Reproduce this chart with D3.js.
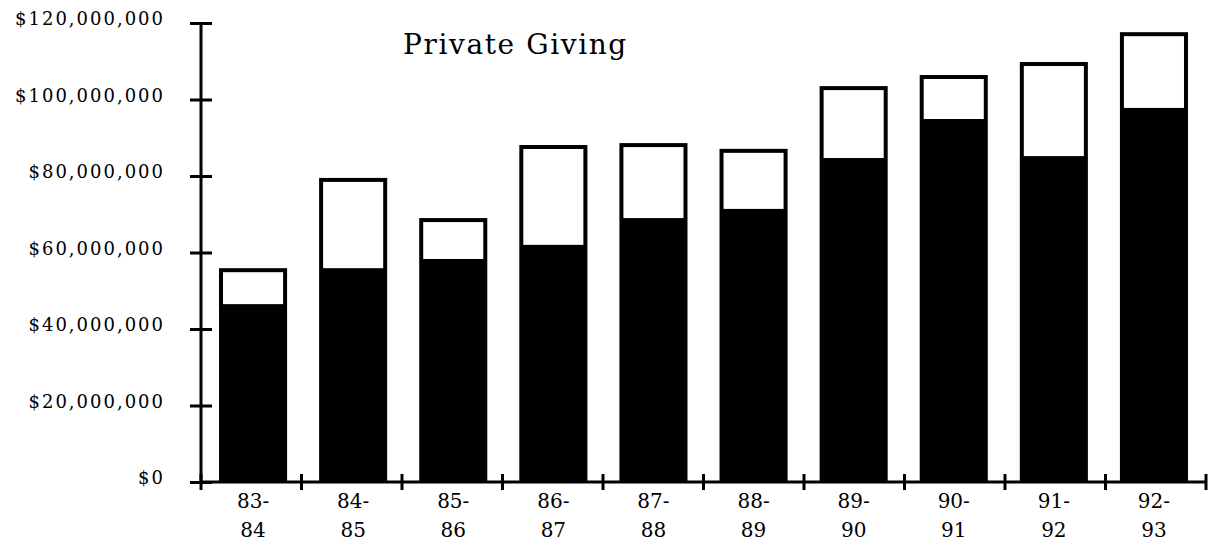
<!DOCTYPE html>
<html>
<head>
<meta charset="utf-8">
<script src="https://cdn.jsdelivr.net/npm/d3@7"></script>
<style>
  html, body { margin: 0; padding: 0; background: #fff; }
  svg { display: block; }
  text { font-family: "DejaVu Serif", "Liberation Serif", serif; fill: #000; }
</style>
</head>
<body>
<svg id="chart" width="1217" height="547"></svg>
<script>
// Fiscal years (two-line labels)
const years = ["83-84", "84-85", "85-86", "86-87", "87-88", "88-89", "89-90", "90-91", "91-92", "92-93"];
// Total private giving per year (dollars)
const totalGiving = [55.9e6, 79.5e6, 69.0e6, 88.1e6, 88.6e6, 87.1e6, 103.5e6, 106.4e6, 109.8e6, 117.6e6];
// Filled (lower) portion of each bar (dollars)
const baseGiving = [46.5e6, 55.9e6, 58.3e6, 62.0e6, 69.0e6, 71.4e6, 84.7e6, 94.9e6, 85.2e6, 97.8e6];
// Value-axis ticks
const yTicks = [0, 20e6, 40e6, 60e6, 80e6, 100e6, 120e6];

const svg = d3.select("#chart");
const plotLeft = 201, plotRight = 1206, plotTop = 23, plotBottom = 482;

const band = d3.scaleBand().domain(years).range([plotLeft, plotRight]).padding(0);
const barX = d3.scaleBand().domain(years).range([plotLeft, plotRight])
  .paddingInner(0.32).paddingOuter(0.18);
const y = d3.scaleLinear().domain([0, 120e6]).range([plotBottom, plotTop]);

const money = v => "$" + d3.format(",")(v);

// Title
svg.append("text")
  .attr("x", 403).attr("y", 54)
  .attr("font-size", 28)
  .attr("letter-spacing", 1.6)
  .text("Private Giving");

// Bars: black full-height body, white window for the upper portion
const outline = 4;
const bars = svg.append("g").selectAll("g").data(years).join("g");
bars.append("rect")
  .attr("x", d => barX(d))
  .attr("width", barX.bandwidth())
  .attr("y", (d, i) => y(totalGiving[i]))
  .attr("height", (d, i) => y(0) - y(totalGiving[i]))
  .attr("fill", "#000");
bars.append("rect")
  .attr("x", d => barX(d) + outline)
  .attr("width", barX.bandwidth() - 2 * outline)
  .attr("y", (d, i) => y(totalGiving[i]) + outline)
  .attr("height", (d, i) => Math.max(0, y(baseGiving[i]) - y(totalGiving[i]) - outline))
  .attr("fill", "#fff");

// Value axis: labels with ticks on the left, plus tick stubs to the right
const yAxisL = svg.append("g")
  .attr("transform", `translate(${plotLeft},0)`)
  .call(d3.axisLeft(y).tickValues(yTicks).tickSize(11).tickPadding(25).tickFormat(money));
yAxisL.select(".domain").remove();
yAxisL.selectAll(".tick line").attr("stroke", "#000").attr("stroke-width", 3);
yAxisL.selectAll(".tick text")
  .attr("font-size", 18)
  .attr("letter-spacing", 2)
  .attr("dy", "0.1em");

const yAxisR = svg.append("g")
  .attr("transform", `translate(${plotLeft},0)`)
  .call(d3.axisRight(y).tickValues(yTicks).tickSize(11).tickFormat(""));
yAxisR.select(".domain").remove();
yAxisR.selectAll(".tick line").attr("stroke", "#000").attr("stroke-width", 3);

svg.append("line")
  .attr("x1", plotLeft).attr("x2", plotLeft)
  .attr("y1", y(120e6)).attr("y2", y(0))
  .attr("stroke", "#000").attr("stroke-width", 3);

// Category axis line and boundary ticks
svg.append("line")
  .attr("x1", plotLeft).attr("x2", plotRight)
  .attr("y1", y(0)).attr("y2", y(0))
  .attr("stroke", "#000").attr("stroke-width", 3);

const bounds = years.map(d => band(d)).concat([band.range()[1]]);
svg.append("g").selectAll("line").data(bounds).join("line")
  .attr("x1", d => d).attr("x2", d => d)
  .attr("y1", y(0) - 8).attr("y2", y(0) + 8)
  .attr("stroke", "#000").attr("stroke-width", 3);

// Two-line year labels
const labels = svg.append("g").selectAll("text").data(years).join("text")
  .attr("text-anchor", "middle")
  .attr("font-size", 20)
  .attr("transform", d => `translate(${barX(d) + barX.bandwidth() / 2},0)`);
labels.append("tspan").attr("x", 0).attr("y", 508).text(d => d.split("-")[0] + "-");
labels.append("tspan").attr("x", 0).attr("y", 537).text(d => d.split("-")[1]);
</script>
</body>
</html>
